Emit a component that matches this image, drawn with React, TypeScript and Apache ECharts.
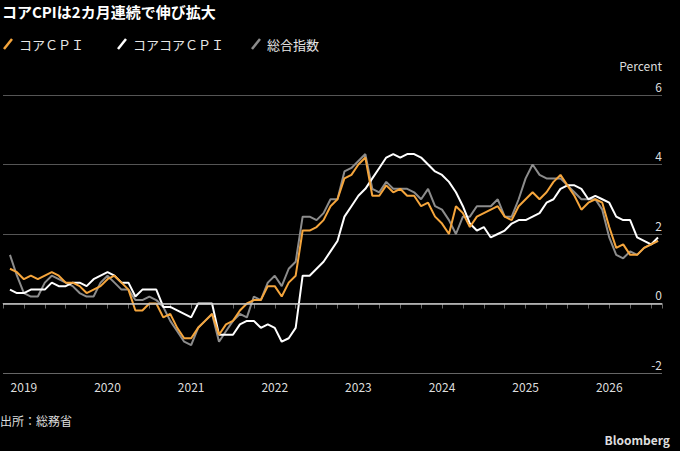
import React, { useEffect, useRef } from "react";
import * as echarts from "echarts";

// month index: 0 = Jan 2019; first point = Nov 2018 (-2)
const startMonth = -2;
const coreCPI = [1.0,0.9,0.7,0.8,0.7,0.8,0.9,0.8,0.6,0.6,0.5,0.3,0.4,0.5,0.7,0.8,0.6,0.4,-0.2,-0.2,0.0,0.0,-0.4,-0.3,-0.7,-1.0,-1.0,-0.7,-0.5,-0.3,-0.9,-0.6,-0.5,-0.2,0.0,0.1,0.1,0.5,0.5,0.2,0.6,0.8,2.1,2.1,2.2,2.4,2.8,3.0,3.6,3.7,4.0,4.2,3.1,3.1,3.4,3.2,3.3,3.1,3.1,2.8,2.9,2.5,2.3,2.0,2.8,2.6,2.2,2.5,2.6,2.7,2.8,2.5,2.4,2.8,3.0,3.2,3.0,3.2,3.5,3.7,3.4,3.1,2.7,2.9,3.0,2.9,2.2,1.6,1.7,1.4,1.4,1.6,1.7,1.8];
const coreCoreCPI = [0.4,0.3,0.3,0.4,0.4,0.4,0.6,0.5,0.5,0.6,0.6,0.5,0.7,0.8,0.9,0.8,0.6,0.6,0.2,0.4,0.4,0.4,-0.1,-0.1,-0.2,-0.3,-0.4,0.0,0.0,0.0,-0.9,-0.9,-0.9,-0.6,-0.5,-0.5,-0.7,-0.6,-0.7,-1.1,-1.0,-0.7,0.8,0.8,1.0,1.2,1.5,1.8,2.5,2.8,3.1,3.3,3.6,3.9,4.2,4.3,4.2,4.3,4.3,4.2,4.0,3.8,3.7,3.5,3.2,2.8,2.3,2.1,2.2,1.9,2.0,2.1,2.3,2.4,2.4,2.5,2.6,2.9,3.0,3.3,3.4,3.4,3.3,3.0,3.1,3.0,2.9,2.5,2.4,2.4,1.9,1.8,1.7,1.9];
const headline = [1.4,0.8,0.3,0.2,0.2,0.6,0.8,0.7,0.6,0.5,0.3,0.2,0.2,0.6,0.8,0.6,0.4,0.4,0.1,0.1,0.2,0.1,-0.1,-0.5,-0.8,-1.1,-1.2,-0.7,-0.5,-0.3,-1.1,-0.8,-0.5,-0.3,-0.4,0.2,0.1,0.6,0.8,0.5,1.0,1.2,2.5,2.5,2.4,2.6,3.0,3.0,3.8,3.9,4.1,4.3,3.3,3.2,3.5,3.3,3.3,3.3,3.2,3.0,3.3,2.8,2.7,2.4,2.0,2.5,2.5,2.8,2.8,2.8,3.0,2.5,2.5,3.0,3.6,4.0,3.7,3.6,3.6,3.6,3.4,3.2,3.0,3.0,3.0,2.7,1.9,1.4,1.3,1.5,1.4,1.6,1.7,1.8];
const yTicks = [-2, 0, 2, 4, 6];
const firstYear = 2019;
const names = ["コアＣＰＩ", "コアコアＣＰＩ", "総合指数"];
const colors = ["#f5a53c", "#ffffff", "#8c8c8c"];

const toPts = (arr: number[]) => arr.map((v, i) => [startMonth + i, v]);

export default function App() {
  const ref = useRef<HTMLDivElement>(null);
  useEffect(() => {
    const chart = echarts.init(ref.current!, null, { renderer: "svg" });
    const font = "'Noto Sans CJK JP', 'Noto Sans', sans-serif";
    const legendItems: any[] = [];
    const lx = [4, 118, 252];
    names.forEach((n, i) => {
      legendItems.push({ type: "line", shape: { x1: lx[i], y1: 49, x2: lx[i] + 8, y2: 39 }, style: { stroke: colors[i], lineWidth: 2.5 } });
      legendItems.push({ type: "text", x: lx[i] + 15, y: 44, style: { text: n, fill: "#e6e6e6", font: `13px ${font}`, verticalAlign: "middle" } });
    });
    chart.setOption({
      animation: false,
      backgroundColor: "#000",
      grid: { left: 0, right: 18, top: 95, bottom: 78 },
      xAxis: {
        type: "value", min: -3, max: -3 + 662 / 7, interval: 3,
        axisLine: { lineStyle: { color: "#666" } },
        axisTick: { length: 5, lineStyle: { color: "#666" } },
        splitLine: { show: false },
        axisLabel: {
          color: "#ddd", fontSize: 12, fontFamily: font, margin: 7,
          formatter: (v: number) => (v % 12 === 0 && v >= 0 ? String(firstYear + v / 12) : ""),
        },
      },
      yAxis: {
        type: "value", position: "right", min: yTicks[0], max: yTicks[yTicks.length - 1], interval: 2,
        axisLine: { show: false }, axisTick: { show: false },
        splitLine: { lineStyle: { color: ["#666", "#000", "#555", "#555", "#555"], width: 1 } },
        axisLabel: { inside: true, verticalAlign: "bottom", margin: 0, padding: [0, 0, 3, 0], color: "#ddd", fontSize: 12, fontFamily: font },
      },
      series: [
        { type: "line", data: toPts(headline), showSymbol: false, lineStyle: { color: colors[2], width: 2 }, z: 2,
          markLine: { silent: true, symbol: "none", label: { show: false }, data: [{ yAxis: 0 }], lineStyle: { color: "#c8c8c8", width: 1.5, type: "solid" } } },
        { type: "line", data: toPts(coreCoreCPI), showSymbol: false, lineStyle: { color: colors[1], width: 2 }, z: 3 },
        { type: "line", data: toPts(coreCPI), showSymbol: false, lineStyle: { color: colors[0], width: 2 }, z: 4 },
      ],
      graphic: [
        { type: "text", left: 2, top: 4, style: { text: "コアCPIは2カ月連続で伸び拡大", fill: "#fff", font: `bold 15px ${font}` } },
        ...legendItems,
        { type: "text", right: 18, top: 59, style: { text: "Percent", fill: "#ddd", font: `12px ${font}` } },
        { type: "text", left: 0, top: 414, style: { text: "出所：総務省", fill: "#ddd", font: `12px ${font}` } },
        { type: "text", right: 10, top: 433, style: { text: "Bloomberg", fill: "#ddd", font: `bold 12px ${font}` } },
      ],
    });
    return () => chart.dispose();
  }, []);
  return <div ref={ref} style={{ position: "fixed", left: 0, top: 0, width: 680, height: 451 }} />;
}
